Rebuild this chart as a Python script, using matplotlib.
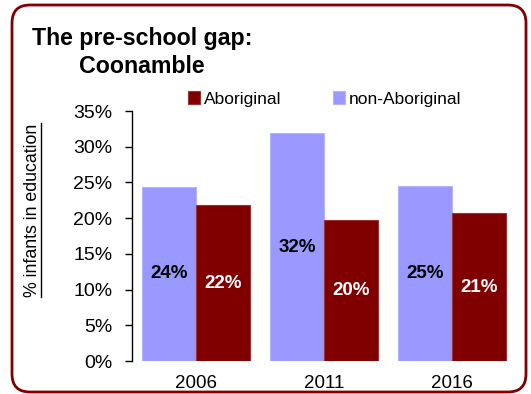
from matplotlib.patches import FancyBboxPatch
from matplotlib.lines import Line2D
import matplotlib.pyplot as plt
import numpy as np

plt.rcParams["font.family"] = ["Liberation Sans", "DejaVu Sans"]

years = ["2006", "2011", "2016"]
non_aboriginal = [24.4, 31.9, 24.5]
aboriginal = [21.8, 19.7, 20.7]
non_labels = ["24%", "32%", "25%"]
abo_labels = ["22%", "20%", "21%"]
yticks = [0, 5, 10, 15, 20, 25, 30, 35]

PURPLE = "#9999ff"
MAROON = "#800000"


def main() -> None:
    fig = plt.figure(figsize=(5.31, 3.94), dpi=100)
    ax = fig.add_axes([132 / 531, 1 - 361 / 394, 384 / 531, 250 / 394])

    x = np.arange(len(years))
    w = 0.418
    b1 = ax.bar(x - w / 2, non_aboriginal, w, color=PURPLE, edgecolor="#b3b3ff",
                linewidth=0.8, label="non-Aboriginal")
    b2 = ax.bar(x + w / 2, aboriginal, w, color=MAROON, edgecolor="#993333",
                linewidth=0.8, label="Aboriginal")

    for rect, lab in zip(b1, non_labels):
        ax.text(rect.get_x() + rect.get_width() / 2, rect.get_height() / 2, lab,
                ha="center", va="center", fontsize=13.5, fontweight="bold", color="black")
    for rect, lab in zip(b2, abo_labels):
        ax.text(rect.get_x() + rect.get_width() / 2, rect.get_height() / 2, lab,
                ha="center", va="center", fontsize=13.5, fontweight="bold", color="white")

    ax.set_xlim(-0.5, 2.5)
    ax.set_ylim(0, 35)
    ax.set_yticks(yticks)
    ax.set_yticklabels([f"{t}%" for t in yticks], fontsize=14)
    ax.set_xticks(x)
    ax.set_xticklabels(years, fontsize=13.5)
    ax.tick_params(axis="x", length=0, pad=10)
    ax.tick_params(axis="y", length=5, width=1, pad=9, direction="out")
    for s in ["top", "right", "bottom"]:
        ax.spines[s].set_visible(False)
    ax.spines["left"].set_linewidth(1)

    fig.legend(handles=[b2, b1], labels=["Aboriginal", "non-Aboriginal"],
               loc="center left", bbox_to_anchor=(188 / 531, 1 - 99 / 394),
               ncol=2, frameon=False, fontsize=12.5, handlelength=0.7,
               handleheight=0.7, handletextpad=0.2, columnspacing=3.0,
               borderpad=0, borderaxespad=0)

    fig.text(32 / 531, 1 - 45 / 394, "The pre-school gap:", fontsize=16.7,
             fontweight="bold", ha="left", va="baseline")
    fig.text(79 / 531, 1 - 73 / 394, "Coonamble", fontsize=16.7,
             fontweight="bold", ha="left", va="baseline")

    ylab = fig.text(33 / 531, 1 - 210 / 394, "% infants in education", fontsize=12.8,
                    rotation=90, ha="center", va="center")

    # underline for the rotated axis title
    fig.canvas.draw()
    bb = ylab.get_window_extent()
    ux = (bb.x1 - 0.5) / fig.bbox.width
    fig.add_artist(Line2D([ux, ux], [bb.y0 / fig.bbox.height, bb.y1 / fig.bbox.height],
                          transform=fig.transFigure, color="black", lw=1))

    frame = FancyBboxPatch((0.12, 0.02), 5.14, 3.87,
                           boxstyle="round,pad=0,rounding_size=0.18",
                           transform=fig.dpi_scale_trans, facecolor="none",
                           edgecolor=MAROON, linewidth=2, clip_on=False)
    fig.add_artist(frame)

    fig.savefig("out.png", dpi=100)
    plt.close(fig)


if __name__ == "__main__":
    main()
